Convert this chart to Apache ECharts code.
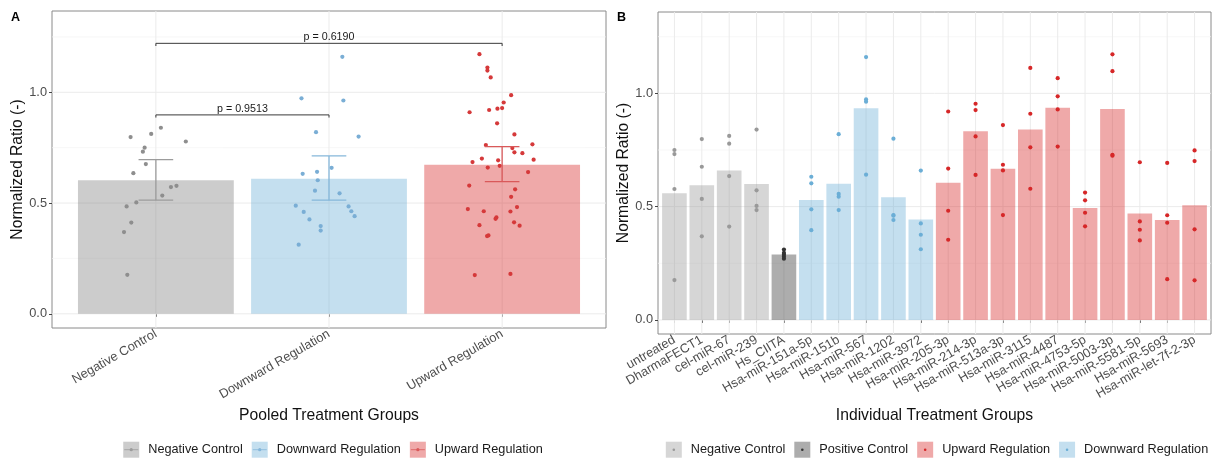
<!DOCTYPE html>
<html><head><meta charset="utf-8">
<script src="https://cdn.jsdelivr.net/npm/echarts@6/dist/echarts.min.js"></script>
<style>html,body{margin:0;padding:0;background:#fff}#c{width:1213px;height:459px}</style>
</head><body><div id="c"></div>
<script>
// ---------------- DATA ----------------
const pooledCategories = ['Negative Control', 'Downward Regulation', 'Upward Regulation'];
const individualCategories = ['untreated', 'DharmaFECT1', 'cel-miR-67', 'cel-miR-239', 'Hs_CIITA',
  'Hsa-miR-151a-5p', 'Hsa-miR-151b', 'Hsa-miR-567', 'Hsa-miR-1202', 'Hsa-miR-3972',
  'Hsa-miR-205-3p', 'Hsa-miR-214-3p', 'Hsa-miR-513a-3p', 'Hsa-miR-3115', 'Hsa-miR-4487',
  'Hsa-miR-4753-5p', 'Hsa-miR-5003-3p', 'Hsa-miR-5581-5p', 'Hsa-miR-5693', 'Hsa-miR-let-7f-2-3p'];
const individualGroup = ['Negative Control', 'Negative Control', 'Negative Control', 'Negative Control',
  'Positive Control',
  'Downward Regulation', 'Downward Regulation', 'Downward Regulation', 'Downward Regulation', 'Downward Regulation',
  'Upward Regulation', 'Upward Regulation', 'Upward Regulation', 'Upward Regulation', 'Upward Regulation',
  'Upward Regulation', 'Upward Regulation', 'Upward Regulation', 'Upward Regulation', 'Upward Regulation'];

const untreated   = [0.750, 0.732, 0.578, 0.176];
const dharmaFECT1 = [0.798, 0.676, 0.534, 0.369];
const celMiR67    = [0.812, 0.778, 0.635, 0.412];
const celMiR239   = [0.840, 0.572, 0.503, 0.485];
const hsCIITA     = [0.311, 0.296, 0.288, 0.279, 0.270];
const miR151a5p   = [0.632, 0.603, 0.488, 0.396];
const miR151b     = [0.820, 0.556, 0.544, 0.485];
const miR567      = [1.160, 0.973, 0.963, 0.641];
const miR1202     = [0.800, 0.463, 0.460, 0.441];
const miR3972     = [0.659, 0.426, 0.376, 0.312];
const miR205_3p   = [0.920, 0.668, 0.482, 0.354];
const miR214_3p   = [0.954, 0.926, 0.810, 0.640];
const miR513a_3p  = [0.860, 0.685, 0.660, 0.463];
const miR3115     = [1.112, 0.910, 0.762, 0.579];
const miR4487     = [1.067, 0.987, 0.929, 0.765];
const miR4753_5p  = [0.562, 0.528, 0.473, 0.413];
const miR5003_3p  = [1.172, 1.098, 0.729, 0.725];
const miR5581_5p  = [0.696, 0.435, 0.398, 0.351];
const miR5693     = [0.693, 0.462, 0.429, 0.180];
const miRLet7f    = [0.748, 0.701, 0.400, 0.175];

// horizontal jitter of the pooled points (category units)
const negativeJitter = [-0.065, -0.075, 0.119, -0.165, -0.146, -0.058, 0.037, -0.184,
  -0.027, 0.173, -0.130, -0.142, 0.029, 0.087, -0.113, -0.169];
const downwardJitter = [-0.152, -0.065, -0.192, -0.048, -0.075, -0.081, 0.061, 0.113,
  0.077, -0.159, 0.083, -0.069, 0.171, 0.129, -0.146, 0.148, 0.015, -0.113, -0.048, -0.175];
const upwardJitter = [-0.075, -0.014, 0.086, -0.079, 0.009, -0.027, 0.071, 0.150,
  -0.029, -0.171, -0.083, -0.106, -0.085, -0.188, -0.094, -0.190, -0.066, 0.052, 0.000, 0.175,
  0.075, 0.052, -0.198, 0.069, -0.131, -0.085, 0.071, 0.117, 0.182, -0.033, 0.101, -0.087,
  -0.023, 0.048, -0.038, 0.048, 0.059, -0.117, -0.131, -0.158];

const pooledCILow  = [0.513, 0.513, 0.597];
const pooledCIHigh = [0.696, 0.713, 0.755];

const pLabels    = ['p = 0.9513', 'p = 0.6190'];
const bracketFrom = [1, 1];
const bracketTo   = [2, 3];
const bracketY    = [0.898, 1.221];

const yTicks = [0, 0.5, 1.0];
const yMinorTicks = [0.25, 0.75, 1.25];

// ---------------- DERIVED ----------------
const individualValues = [untreated, dharmaFECT1, celMiR67, celMiR239, hsCIITA,
  miR151a5p, miR151b, miR567, miR1202, miR3972, miR205_3p, miR214_3p, miR513a_3p,
  miR3115, miR4487, miR4753_5p, miR5003_3p, miR5581_5p, miR5693, miRLet7f];
const mean = a => a.reduce((s, v) => s + v, 0) / a.length;
const pooledValues = pooledCategories.map(g =>
  individualValues.filter((v, i) => individualGroup[i] === g).flat());
const pooledJitter = [negativeJitter, downwardJitter, upwardJitter];

// ---------------- STYLE ----------------
const FONT = '"Liberation Sans", Arial, Helvetica, sans-serif';
const A_FILL = {'Negative Control': 'rgba(128,128,128,0.4)', 'Downward Regulation': 'rgba(107,174,214,0.4)', 'Upward Regulation': 'rgba(214,39,40,0.4)'};
const A_DOT  = {'Negative Control': '#8e8e8e', 'Downward Regulation': '#7aaed5', 'Upward Regulation': '#d5393a'};
const A_ERR  = {'Negative Control': '#9c9c9c', 'Downward Regulation': '#86b7da', 'Upward Regulation': '#d9595a'};
const B_FILL = {'Negative Control': 'rgba(153,153,153,0.4)', 'Positive Control': 'rgba(51,51,51,0.4)', 'Upward Regulation': 'rgba(214,39,40,0.4)', 'Downward Regulation': 'rgba(107,174,214,0.4)'};
const B_DOT  = {'Negative Control': '#999999', 'Positive Control': '#333333', 'Upward Regulation': '#d62728', 'Downward Regulation': '#6baed6'};
const TICK_FS = 12.8, TITLE_FS = 15.7, LEG_FS = 12.7;

function gridLines(xs) {
  const d = [];
  yTicks.forEach(v => d.push([0, v, 1]));
  yMinorTicks.forEach(v => d.push([0, v, 0]));
  xs.forEach(v => d.push([1, v, 1]));
  return d;
}
function renderGrid(params, api) {
  const cs = params.coordSys;
  const dir = api.value(0), v = api.value(1), major = api.value(2);
  const style = {stroke: major ? '#ebebeb' : '#f3f3f3', lineWidth: major ? 1 : 0.7};
  if (dir === 0) {
    const y = api.coord([1, v])[1];
    return {type: 'line', shape: {x1: cs.x, y1: y, x2: cs.x + cs.width, y2: y}, style};
  }
  const x = api.coord([v, 0])[0];
  return {type: 'line', shape: {x1: x, y1: cs.y, x2: x, y2: cs.y + cs.height}, style};
}
function renderBar(params, api) {
  const x = api.value(0), y = api.value(1);
  const p1 = api.coord([x - 0.45, y]), p2 = api.coord([x + 0.45, 0]);
  return {type: 'rect', shape: {x: p1[0], y: p1[1], width: p2[0] - p1[0], height: p2[1] - p1[1]},
    style: {fill: api.visual('color')}};
}
function renderErr(params, api) {
  const x = api.value(0), lo = api.value(1), hi = api.value(2), hw = 0.1;
  const a = api.coord([x, lo]), b = api.coord([x, hi]);
  const l = api.coord([x - hw, lo])[0], r = api.coord([x + hw, lo])[0];
  const style = {stroke: api.visual('color'), lineWidth: 1.3};
  return {type: 'group', children: [
    {type: 'line', shape: {x1: a[0], y1: a[1], x2: b[0], y2: b[1]}, style},
    {type: 'line', shape: {x1: l, y1: a[1], x2: r, y2: a[1]}, style},
    {type: 'line', shape: {x1: l, y1: b[1], x2: r, y2: b[1]}, style}
  ]};
}
function renderBracket(params, api) {
  const x1 = api.value(0), x2 = api.value(1), y = api.value(2), tip = 0.012;
  const p1 = api.coord([x1, y - tip]), p2 = api.coord([x1, y]), p3 = api.coord([x2, y]), p4 = api.coord([x2, y - tip]);
  const mid = api.coord([(x1 + x2) / 2, y]);
  return {type: 'group', children: [
    {type: 'polyline', shape: {points: [p1, p2, p3, p4]}, style: {stroke: '#3a3a3a', lineWidth: 1, fill: null}},
    {type: 'text', x: mid[0], y: mid[1] - 0.5, style: {text: pLabels[params.dataIndex], fill: '#1a1a1a',
      font: `10.7px ${FONT}`, align: 'center', verticalAlign: 'bottom'}}
  ]};
}

// ---------------- SERIES ----------------
const series = [];
// Panel A
series.push({type: 'custom', xAxisIndex: 0, yAxisIndex: 0, z: 1, silent: true, clip: true,
  renderItem: renderGrid, data: gridLines([1, 2, 3])});
series.push({type: 'custom', xAxisIndex: 0, yAxisIndex: 0, z: 2, silent: true,
  renderItem: renderBar,
  data: pooledCategories.map((g, i) => ({value: [i + 1, mean(pooledValues[i])], itemStyle: {color: A_FILL[g]}}))});
pooledCategories.forEach((g, i) => {
  series.push({type: 'scatter', name: g, xAxisIndex: 0, yAxisIndex: 0, z: 3, symbolSize: 4.2,
    itemStyle: {color: A_DOT[g], opacity: 1}, silent: true,
    data: pooledValues[i].map((v, j) => [i + 1 + pooledJitter[i][j], v])});
});
series.push({type: 'custom', xAxisIndex: 0, yAxisIndex: 0, z: 4, silent: true,
  renderItem: renderErr,
  data: pooledCategories.map((g, i) => ({value: [i + 1, pooledCILow[i], pooledCIHigh[i]], itemStyle: {color: A_ERR[g]}}))});
series.push({type: 'custom', xAxisIndex: 0, yAxisIndex: 0, z: 5, silent: true, clip: false,
  renderItem: renderBracket,
  data: pLabels.map((p, i) => [bracketFrom[i], bracketTo[i], bracketY[i]])});
// Panel B
series.push({type: 'custom', xAxisIndex: 1, yAxisIndex: 1, z: 1, silent: true, clip: true,
  renderItem: renderGrid, data: gridLines(individualCategories.map((c, i) => i + 1))});
series.push({type: 'custom', xAxisIndex: 1, yAxisIndex: 1, z: 2, silent: true,
  renderItem: renderBar,
  data: individualCategories.map((c, i) => ({value: [i + 1, mean(individualValues[i])],
    itemStyle: {color: B_FILL[individualGroup[i]]}}))});
['Negative Control', 'Positive Control', 'Upward Regulation', 'Downward Regulation'].forEach(g => {
  const pts = [];
  individualCategories.forEach((c, i) => {
    if (individualGroup[i] === g) individualValues[i].forEach(v => pts.push([i + 1, v]));
  });
  series.push({type: 'scatter', name: g, xAxisIndex: 1, yAxisIndex: 1, z: 3, symbolSize: 4.2,
    itemStyle: {color: B_DOT[g], opacity: 1}, silent: true, data: pts});
});

// ---------------- AXES ----------------
function xAxisDef(grid, cats, max, title, gap) {
  const ticks = cats.map((c, i) => i + 1);
  return {gridIndex: grid, type: 'value', min: 0.4, max: max,
    axisLine: {show: false}, splitLine: {show: false},
    axisTick: {show: true, customValues: ticks, length: 3, lineStyle: {color: '#444', width: 1}},
    axisLabel: {customValues: ticks, formatter: v => cats[Math.round(v) - 1], rotate: 30, margin: 5,
      fontSize: TICK_FS, color: '#4d4d4d', fontFamily: FONT},
    name: title, nameLocation: 'middle', nameGap: gap,
    nameTextStyle: {fontSize: TITLE_FS, color: '#111', fontFamily: FONT}};
}
function yAxisDef(grid, min, max, gap) {
  return {gridIndex: grid, type: 'value', min: min, max: max,
    axisLine: {show: false}, splitLine: {show: false},
    axisTick: {show: true, customValues: yTicks, length: 3, lineStyle: {color: '#444', width: 1}},
    axisLabel: {customValues: yTicks, formatter: v => v.toFixed(1), margin: 5,
      fontSize: TICK_FS, color: '#4d4d4d', fontFamily: FONT},
    name: 'Normalized Ratio (-)', nameLocation: 'middle', nameGap: gap, nameRotate: 90,
    nameTextStyle: {fontSize: TITLE_FS, color: '#111', fontFamily: FONT}};
}

// ---------------- LEGENDS (graphic) ----------------
const measureCtx = document.createElement('canvas').getContext('2d');
function legend(items, cx, cy, withLine) {
  measureCtx.font = `${LEG_FS}px ${FONT}`;
  const key = 16, gapKT = 9, gapItem = 9;
  const widths = items.map(it => measureCtx.measureText(it.name).width);
  const total = items.length * (key + gapKT) + (items.length - 1) * gapItem + widths.reduce((s, w) => s + w, 0);
  let x = cx - total / 2;
  const els = [];
  items.forEach((it, i) => {
    els.push({type: 'rect', shape: {x: x, y: cy - key / 2, width: key, height: key}, style: {fill: it.fill}, z: 10});
    if (withLine) els.push({type: 'line', shape: {x1: x + 1, y1: cy, x2: x + key - 1, y2: cy}, style: {stroke: it.dot, lineWidth: 0.8}, z: 11});
    els.push({type: 'circle', shape: {cx: x + key / 2, cy: cy, r: withLine ? 1.6 : 1.3}, style: {fill: it.dot}, z: 11});
    els.push({type: 'text', x: x + key + gapKT, y: cy, style: {text: it.name, font: `${LEG_FS}px ${FONT}`, fill: '#1a1a1a', verticalAlign: 'middle'}, z: 11});
    x += key + gapKT + widths[i] + gapItem;
  });
  return els;
}
const legendA = legend(pooledCategories.map(g => ({name: g, fill: A_FILL[g], dot: A_ERR[g]})), 333, 449.7, true);
const legendB = legend(['Negative Control', 'Positive Control', 'Upward Regulation', 'Downward Regulation']
  .map(g => ({name: g, fill: B_FILL[g], dot: B_DOT[g]})), 937, 449.7, false);

const option = {
  animation: false,
  backgroundColor: '#ffffff',
  textStyle: {fontFamily: FONT},
  grid: [
    {left: 52, top: 11, width: 554, height: 317, show: true, borderColor: '#8a8a8a', borderWidth: 1, backgroundColor: '#fff'},
    {left: 658, top: 12, width: 553, height: 322, show: true, borderColor: '#8a8a8a', borderWidth: 1, backgroundColor: '#fff'}
  ],
  xAxis: [xAxisDef(0, pooledCategories, 3.6, 'Pooled Treatment Groups', 77),
          xAxisDef(1, individualCategories, 20.6, 'Individual Treatment Groups', 71)],
  yAxis: [yAxisDef(0, -0.064, 1.367, 23), yAxisDef(1, -0.062, 1.359, 20)],
  series: series,
  graphic: [
    {type: 'text', left: 11, top: 11, style: {text: 'A', font: `bold 12.5px ${FONT}`, fill: '#000'}},
    {type: 'text', left: 617, top: 11, style: {text: 'B', font: `bold 12.5px ${FONT}`, fill: '#000'}},
    ...legendA, ...legendB
  ]
};
const chart = echarts.init(document.getElementById('c'), null, {renderer: 'canvas'});
chart.setOption(option);
</script></body></html>
